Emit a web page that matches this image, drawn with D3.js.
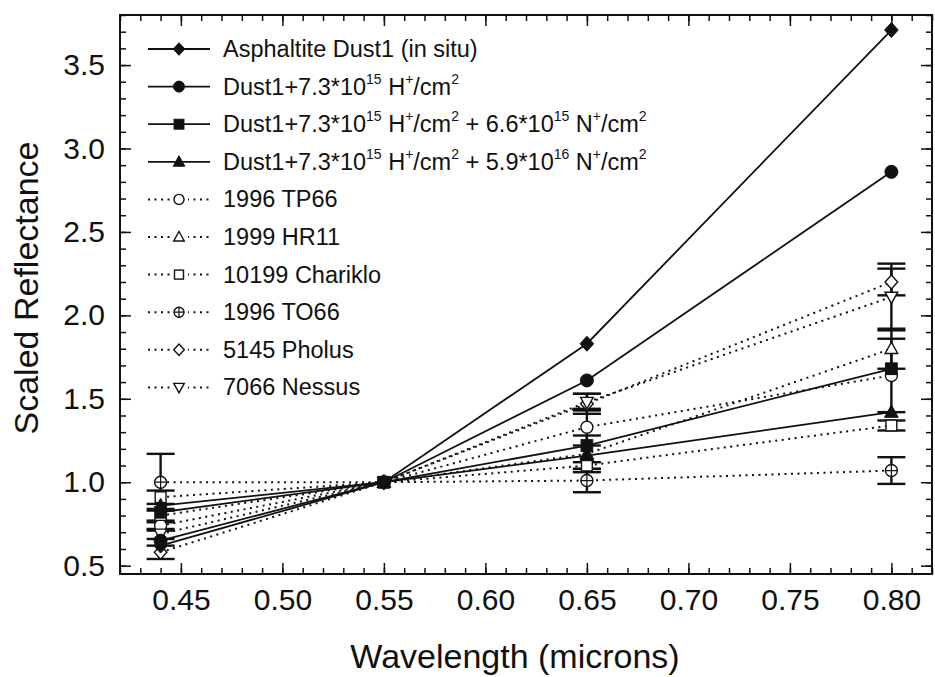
<!DOCTYPE html>
<html>
<head>
<meta charset="utf-8">
<script src="https://cdn.jsdelivr.net/npm/d3@7"></script>
<style>
  body { margin: 0; background: #fff; }
  text { font-family: "Liberation Sans", Arial, sans-serif; fill: #111; }
</style>
</head>
<body>
<script>
// wavelengths of the four filters (microns)
const wavelengths = [0.44, 0.55, 0.65, 0.80];

// lab samples (solid lines, filled markers)
const asphaltite = [0.62, 1.0, 1.83, 3.71];
const dustH = [0.65, 1.0, 1.61, 2.86];
const dustHN1 = [0.82, 1.0, 1.22, 1.68];
const dustHN2 = [0.86, 1.0, 1.16, 1.42];

// objects (dotted lines, open markers) and their error bars
const tp66 = [0.74, 1.0, 1.33, 1.64];
const tp66Err = [0.03, 0, 0.11, 0.22];
const hr11 = [0.80, 1.0, 1.17, 1.80];
const hr11Err = [0.04, 0, 0.11, 0.12];
const chariklo = [0.91, 1.0, 1.10, 1.34];
const charikloErr = [0.04, 0, 0.02, 0.03];
const to66 = [1.00, 1.0, 1.01, 1.07];
const to66Err = [0.17, 0, 0.07, 0.08];
const pholus = [0.58, 1.0, 1.47, 2.20];
const pholusErr = [0.04, 0, 0.06, 0.08];
const nessus = [0.69, 1.0, 1.48, 2.11];
const nessusErr = [0.03, 0, 0.05, 0.20];

const xTicks = [0.45, 0.50, 0.55, 0.60, 0.65, 0.70, 0.75, 0.80];
const yTicks = [0.5, 1.0, 1.5, 2.0, 2.5, 3.0, 3.5];

const series = [
  {name: "Asphaltite Dust1 (in situ)", values: asphaltite, shape: "diamond", filled: true},
  {name: [["Dust1+7.3*10", ""], ["15", "sup"], [" H", ""], ["+", "sup"], ["/cm", ""], ["2", "sup"]], values: dustH, shape: "circle", filled: true},
  {name: [["Dust1+7.3*10", ""], ["15", "sup"], [" H", ""], ["+", "sup"], ["/cm", ""], ["2", "sup"], [" + 6.6*10", ""], ["15", "sup"], [" N", ""], ["+", "sup"], ["/cm", ""], ["2", "sup"]], values: dustHN1, shape: "square", filled: true},
  {name: [["Dust1+7.3*10", ""], ["15", "sup"], [" H", ""], ["+", "sup"], ["/cm", ""], ["2", "sup"], [" + 5.9*10", ""], ["16", "sup"], [" N", ""], ["+", "sup"], ["/cm", ""], ["2", "sup"]], values: dustHN2, shape: "triangle", filled: true},
  {name: "1996 TP66", values: tp66, err: tp66Err, shape: "circle", filled: false},
  {name: "1999 HR11", values: hr11, err: hr11Err, shape: "triangle", filled: false},
  {name: "10199 Chariklo", values: chariklo, err: charikloErr, shape: "square", filled: false},
  {name: "1996 TO66", values: to66, err: to66Err, shape: "circleplus", filled: false},
  {name: "5145 Pholus", values: pholus, err: pholusErr, shape: "diamond", filled: false},
  {name: "7066 Nessus", values: nessus, err: nessusErr, shape: "triangledown", filled: false}
];

const W = 935, H = 677;
const svg = d3.select("body").append("svg")
  .attr("width", W).attr("height", H)
  .attr("xmlns", "http://www.w3.org/2000/svg");

const x = d3.scaleLinear().domain([0.42, 0.82]).range([120, 932]);
const y = d3.scaleLinear().domain([0.45, 3.8]).range([574, 15]);

const minorX = d3.range(0.42, 0.8201, 0.01).map(v => +v.toFixed(2));
const minorY = d3.range(0.5, 3.801, 0.1).map(v => +v.toFixed(1));

// axes: ticks pointing inward on all four sides
function styleAxis(g) {
  g.selectAll(".domain").remove();
  g.selectAll("line").attr("stroke", "#111").attr("stroke-width", 1.5);
}
svg.append("g").attr("transform", "translate(0,574)")
  .call(d3.axisBottom(x).tickValues(minorX).tickSize(-6).tickFormat(""))
  .call(styleAxis);
svg.append("g").attr("transform", "translate(0,574)")
  .call(d3.axisBottom(x).tickValues(xTicks).tickSize(-11).tickPadding(15).tickFormat(d3.format(".2f")))
  .call(styleAxis)
  .selectAll("text").attr("font-size", 30).attr("fill", "#111");
svg.append("g").attr("transform", "translate(0,15)")
  .call(d3.axisTop(x).tickValues(minorX).tickSize(-6).tickFormat(""))
  .call(styleAxis);
svg.append("g").attr("transform", "translate(0,15)")
  .call(d3.axisTop(x).tickValues(xTicks).tickSize(-11).tickFormat(""))
  .call(styleAxis);
svg.append("g").attr("transform", "translate(120,0)")
  .call(d3.axisLeft(y).tickValues(minorY).tickSize(-6).tickFormat(""))
  .call(styleAxis);
svg.append("g").attr("transform", "translate(120,0)")
  .call(d3.axisLeft(y).tickValues(yTicks).tickSize(-11).tickPadding(15).tickFormat(d3.format(".1f")))
  .call(styleAxis)
  .selectAll("text").attr("font-size", 30).attr("fill", "#111");
svg.append("g").attr("transform", "translate(932,0)")
  .call(d3.axisRight(y).tickValues(minorY).tickSize(-6).tickFormat(""))
  .call(styleAxis);
svg.append("g").attr("transform", "translate(932,0)")
  .call(d3.axisRight(y).tickValues(yTicks).tickSize(-11).tickFormat(""))
  .call(styleAxis);

svg.append("rect")
  .attr("x", 120).attr("y", 15).attr("width", 812).attr("height", 559)
  .attr("fill", "none").attr("stroke", "#111").attr("stroke-width", 2);

svg.append("text")
  .attr("x", 515).attr("y", 668).attr("text-anchor", "middle")
  .attr("font-size", 34).text("Wavelength (microns)");
svg.append("text")
  .attr("transform", "translate(38,288) rotate(-90)")
  .attr("text-anchor", "middle").attr("font-size", 34).text("Scaled Reflectance");

// marker drawing
function marker(g, shape, filled, r) {
  const fill = filled ? "#111" : "#fff";
  const st = {stroke: "#111", "stroke-width": filled ? 1 : 1.4, fill: fill};
  let el;
  if (shape === "circle" || shape === "circleplus") {
    el = g.append("circle").attr("r", r);
  } else if (shape === "square") {
    el = g.append("rect").attr("x", -r * 0.9).attr("y", -r * 0.9).attr("width", r * 1.8).attr("height", r * 1.8);
  } else if (shape === "diamond") {
    el = g.append("path").attr("d", `M0,${-r * 1.15}L${r * 1.05},0L0,${r * 1.15}L${-r * 1.05},0Z`);
  } else if (shape === "triangle") {
    el = g.append("path").attr("d", `M0,${-r * 1.1}L${r * 1.05},${r * 0.8}L${-r * 1.05},${r * 0.8}Z`);
  } else if (shape === "triangledown") {
    el = g.append("path").attr("d", `M0,${r * 1.1}L${r * 1.05},${-r * 0.8}L${-r * 1.05},${-r * 0.8}Z`);
  }
  Object.entries(st).forEach(([k, v]) => el.attr(k, v));
  if (shape === "circleplus") {
    g.append("path").attr("d", `M${-r},0H${r}M0,${-r}V${r}`)
      .attr("stroke", "#111").attr("stroke-width", 1.2);
  }
}

const line = d3.line().x((d, i) => x(wavelengths[i])).y(d => y(d));

const plot = svg.append("g");

// lines
series.forEach(s => {
  plot.append("path")
    .attr("d", line(s.values))
    .attr("fill", "none")
    .attr("stroke", "#111")
    .attr("stroke-width", s.filled ? 1.8 : 2)
    .attr("stroke-dasharray", s.filled ? null : "2,4.5");
});

// error bars
series.filter(s => s.err).forEach(s => {
  s.values.forEach((v, i) => {
    const e = s.err[i];
    if (!e) return;
    const cx = x(wavelengths[i]);
    const g = plot.append("g").attr("stroke", "#111").attr("stroke-width", 2.4);
    g.append("line").attr("x1", cx).attr("x2", cx).attr("y1", y(v - e)).attr("y2", y(v + e));
    [v - e, v + e].forEach(b => {
      g.append("line").attr("x1", cx - 14).attr("x2", cx + 14).attr("y1", y(b)).attr("y2", y(b));
    });
  });
});

// markers (open symbols first, filled on top)
[...series.filter(s => !s.filled), ...series.filter(s => s.filled)].forEach(s => {
  s.values.forEach((v, i) => {
    const g = plot.append("g").attr("transform", `translate(${x(wavelengths[i])},${y(v)})`);
    marker(g, s.shape, s.filled, s.filled ? 6.5 : 6);
  });
});

// legend
const legend = svg.append("g");
series.forEach((s, i) => {
  const ly = 49 + i * 37.6;
  const g = legend.append("g").attr("transform", `translate(0,${ly})`);
  g.append("line").attr("x1", 148).attr("x2", 210).attr("y1", 0).attr("y2", 0)
    .attr("stroke", "#111").attr("stroke-width", s.filled ? 1.8 : 2)
    .attr("stroke-dasharray", s.filled ? null : "2,4.5");
  const m = g.append("g").attr("transform", "translate(179,0)");
  if (!s.filled) {
    m.append("rect").attr("x", -9).attr("y", -9).attr("width", 18).attr("height", 18).attr("fill", "#fff");
  }
  marker(m, s.shape, s.filled, s.filled ? 5.5 : 5);
  const t = g.append("text").attr("x", 223).attr("y", 8).attr("font-size", 23.5);
  if (typeof s.name === "string") {
    t.text(s.name);
  } else {
    s.name.forEach(([txt, kind], j) => {
      const prev = j > 0 ? s.name[j - 1][1] : "";
      const ts = t.append("tspan").text(txt);
      if (kind === "sup") ts.attr("font-size", 14).attr("dy", -11);
      else if (prev === "sup") ts.attr("dy", 11);
    });
  }
});
</script>
</body>
</html>
